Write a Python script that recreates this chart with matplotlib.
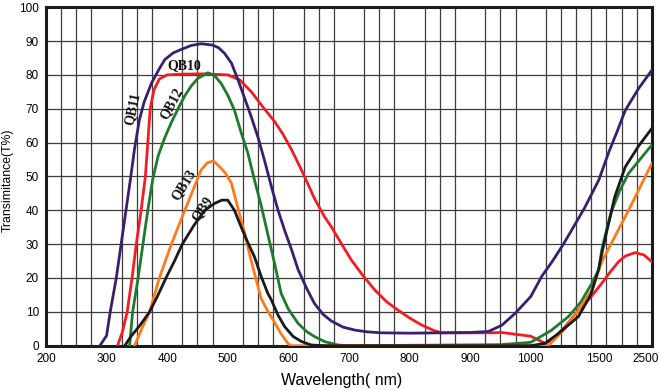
import matplotlib
matplotlib.use("Agg")
import matplotlib.pyplot as plt
import matplotlib.transforms as mtransforms
import numpy as np

plt.rcParams["font.family"] = ["Liberation Sans", "DejaVu Sans"]

# wavelength (nm) and transmittance (%)
qb11_wl = [289, 300, 306, 316, 324, 332, 340, 346, 354, 362, 374, 386, 396, 410,
           423, 440, 456, 475, 485, 495, 506, 517, 528, 539, 550, 561, 572, 583,
           594, 605, 616, 630, 643, 657, 671, 690, 710, 730, 754, 800, 850, 900,
           930, 952, 974, 1000, 1081, 1160, 1240, 1320, 1399, 1500, 1683,
           1850, 1997, 2250, 2500]
qb11_t = [0, 3, 10, 20, 30, 40, 50, 58, 66.6, 72, 77.5, 81.5, 84.5, 86.5,
          87.5, 88.7, 89.2, 88.8, 88, 86.3, 83.5, 78.5, 73, 67.5, 61.5, 54.5, 47,
          40, 34, 28.5, 22.5, 17, 12.5, 9.3, 7.3, 5.5, 4.6, 4.1, 3.8, 3.7, 3.8, 3.9,
          4.2, 6, 9.5, 14.5, 20.5, 25, 30, 35.5, 41, 49, 57,
          63.5, 69.5, 76, 81.4]

qb10_wl = [318, 326, 334, 342, 349, 357, 364, 368, 372, 378, 387, 400, 420, 460,
           500, 520, 539, 558, 577, 591, 605, 620, 633, 643, 660, 671, 688, 704,
           724, 743, 762, 781, 800, 820, 840, 853, 880, 930, 952, 974, 1000, 1031,
           1080, 1105, 1150, 1250, 1350, 1433, 1554, 1700, 1871, 2000, 2186, 2350,
           2500]
qb10_t = [0, 4, 10, 20, 30, 40, 50, 60, 70, 75.5, 78.8, 80, 80.2, 80.3,
          80, 78.5, 75, 70.5, 66.3, 62.5, 58, 52.5, 47.5, 43.5, 38, 35.1, 30, 25.3,
          20.5, 16.4, 13, 10.5, 8.2, 6.1, 4.5, 3.8, 3.8, 3.8, 3.9, 3.4, 2.8, 2.2,
          1.2, 0.7, 1.5, 5.5, 10.5, 14, 18.4, 21.5, 24.8, 26.5, 27.5, 26.8,
          24.8]

qb12_wl = [338, 343, 352, 360, 368, 376, 385, 395, 407, 418, 429, 440, 451, 467,
           478, 489, 500, 511, 522, 533, 544, 555, 566, 577, 588, 600, 616, 630,
           643, 660, 682, 700, 950, 1000, 1031, 1150, 1277, 1370, 1448, 1500,
           1554, 1650, 1745, 1900, 2060, 2300, 2500]
qb12_t = [0, 10, 20, 30, 40, 49, 56, 61, 66, 70, 73.8, 76.8, 79, 80.6,
          79.8, 77.5, 74, 69.6, 63, 57, 49, 41.5, 33, 24.5, 15.5, 10.8, 6.6, 4.2,
          2.7, 1.2, 0.2, 0, 0.3, 1, 1.7, 4.5, 8.6, 13, 18.4, 22.5,
          28.3, 34.5, 40, 46, 50.9, 55.5, 59.3]

qb13_wl = [346, 358, 371, 387, 407, 429, 445, 456, 466, 476, 486, 496, 506, 517,
           528, 536, 544, 555, 565, 575, 588, 600, 605, 1130, 1250, 1350, 1450,
           1554, 2060, 2500]
qb13_t = [0, 5, 10, 20, 30, 40, 47, 51.9, 54, 54.6, 53, 51, 48, 40.5,
          33.2, 27, 21.4, 14, 10.5, 7.6, 3.5, 0.5, 0, 0, 5, 10.5, 16.5,
          24.8, 40, 53.9]

qb9_wl = [330, 340, 355, 371, 385, 398, 412, 425, 444, 462, 478, 490, 500, 511,
          522, 533, 544, 555, 566, 572, 583, 594, 608, 622, 638, 660, 1000, 1105,
          1200, 1350, 1440, 1497, 1580, 1683, 1800, 1997, 2250, 2500]
qb9_t = [0, 2.7, 6, 10, 15, 20, 25, 30, 35.5, 40, 42, 43, 43, 40,
         35.1, 30.5, 26.3, 20.5, 15.5, 13.5, 9, 5.6, 2.7, 1.2, 0.2, 0, 0, 0.7,
         3.5, 8.6, 15, 22.4, 29, 36.1, 44, 52.8, 59, 64.2]

x_ticks = [200, 300, 400, 500, 600, 700, 800, 900, 1000, 1500, 2500]

# broken wavelength axis: linear up to 1000 nm, compressed beyond
KNOT_WL = [200, 1000, 1500, 2500]
KNOT_U = [0, 32, 36.5, 40]


def fwd(x):
    return np.interp(x, KNOT_WL, KNOT_U)


def inv(u):
    return np.interp(u, KNOT_U, KNOT_WL)


fig = plt.figure(figsize=(6.6, 3.9), dpi=100)
ax = fig.add_axes([0.0697, 0.1136, 0.918, 0.868])
ax.set_xscale("function", functions=(fwd, inv))

ax.plot(qb11_wl, qb11_t, color="#3b1f6e", lw=2.0, zorder=5)
ax.plot(qb10_wl, qb10_t, color="#f41c22", lw=2.0, zorder=4)
ax.plot(qb12_wl, qb12_t, color="#1e7a2c", lw=2.0, zorder=4)
ax.plot(qb13_wl, qb13_t, color="#ff7a1a", lw=2.0, zorder=4)
ax.plot(qb9_wl, qb9_t, color="#1a1a1a", lw=2.0, zorder=4)

lab = dict(family=["Liberation Serif", "DejaVu Serif"], weight="bold",
           fontsize=10, color="#111111", ha="center", va="center")
ax.text(343, 70, "QB11", rotation=78, **lab)
ax.text(428, 82.8, "QB10", rotation=0, **lab)
ax.text(407, 71.5, "QB12", rotation=62, **lab)
ax.text(428, 47.5, "QB13", rotation=58, **lab)
ax.text(458, 40.5, "QB9", rotation=56, **lab)

ax.set_xlim(200, 2500)
ax.set_ylim(0, 100)
ax.set_xticks(x_ticks)
ax.set_xticklabels([str(v) for v in x_ticks])
ax.set_xticks(inv(np.arange(41)), minor=True)
ax.set_yticks(np.arange(0, 101, 10))
ax.tick_params(which="both", length=0, labelsize=8.5, pad=5)
ax.grid(which="minor", axis="x", color="#3c3c3c", lw=0.9)
ax.grid(which="major", axis="y", color="#3c3c3c", lw=0.9)
ax.set_axisbelow(True)
for s in ax.spines.values():
    s.set_linewidth(2.2)
    s.set_color("#1a1a1a")

# pull the last wavelength label inside the figure
last = ax.get_xticklabels()[-1]
last.set_transform(last.get_transform() +
                   mtransforms.ScaledTranslation(-6 / 100, 0, fig.dpi_scale_trans))

ax.set_xlabel("Wavelength( nm)", fontsize=11.5)
ax.xaxis.set_label_coords(0.488, -0.08)
ax.set_ylabel("Transimitance(T%)", fontsize=8.8)
ax.yaxis.set_label_coords(-0.054, 0.49)

fig.savefig("out.png", dpi=100)
